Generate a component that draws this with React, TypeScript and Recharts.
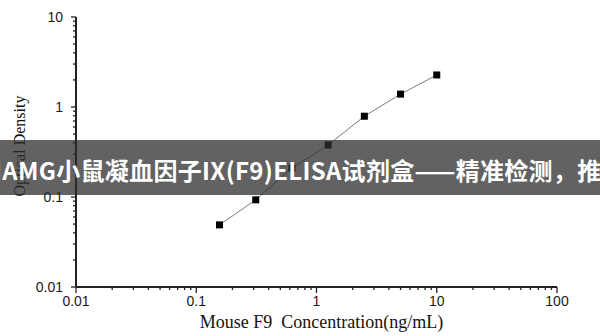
import { ScatterChart, Scatter, XAxis, YAxis } from "recharts";

// standard curve points
const concentrations = [0.156, 0.3125, 0.625, 1.25, 2.5, 5, 10];
const odValues = [0.049, 0.093, 0.21, 0.378, 0.79, 1.39, 2.27];

const xMajorTicks = [0.01, 0.1, 1, 10, 100];
const yMajorTicks = [0.01, 0.1, 1, 10];
const minorSteps = [2, 3, 4, 5, 6, 7, 8, 9];

const xTickLabels = ["0.01", "0.1", "1", "10", "100"];
const yTickLabels = ["0.01", "0.1", "1", "10"];

const bannerText = "司AMG小鼠凝血因子IX(F9)ELISA试剂盒——精准检测，推";

const withMinors = (majors: number[]) => {
  const out: number[] = [];
  majors.forEach((m, i) => {
    out.push(m);
    if (i < majors.length - 1) minorSteps.forEach((s) => out.push(+(m * s).toPrecision(3)));
  });
  return out;
};

const xTicks = withMinors(xMajorTicks);
const yTicks = withMinors(yMajorTicks);

const chartData = concentrations.map((c, i) => ({ x: c, y: odValues[i] }));

const labelFont = "'Liberation Sans', Arial, sans-serif";
const serif = "'Liberation Serif', 'Times New Roman', serif";

const XTick = (props: any) => {
  const { x, y, payload } = props;
  const idx = xMajorTicks.indexOf(payload.value);
  const major = idx >= 0;
  return (
    <g>
      <line x1={x} x2={x} y1={y} y2={y + (major ? 6 : 3)} stroke="#222" strokeWidth={1.3} />
      {major && (
        <text x={x} y={y + 14} textAnchor="middle" dominantBaseline="central" fontSize={14} fontFamily={labelFont} fill="#1a1a1a">
          {xTickLabels[idx]}
        </text>
      )}
    </g>
  );
};

const YTick = (props: any) => {
  const { x, y, payload } = props;
  const idx = yMajorTicks.indexOf(payload.value);
  const major = idx >= 0;
  return (
    <g>
      <line x1={x} x2={x - (major ? 5 : 3)} y1={y} y2={y} stroke="#222" strokeWidth={1.3} />
      {major && (
        <text x={x - 13} y={y} textAnchor="end" dominantBaseline="central" fontSize={14} fontFamily={labelFont} fill="#1a1a1a">
          {yTickLabels[idx]}
        </text>
      )}
    </g>
  );
};

const SquareDot = (props: any) => {
  const { cx, cy } = props;
  return <rect x={cx - 3.5} y={cy - 3.5} width={7} height={7} fill="#000" />;
};

export default function App() {
  return (
    <div style={{ position: "absolute", left: 0, top: 0, width: 600, height: 336, background: "#fff", overflow: "hidden" }}>
      <ScatterChart width={600} height={336} margin={{ top: 17, right: 43, bottom: 0, left: 0 }}>
        <XAxis
          type="number"
          dataKey="x"
          scale="log"
          domain={[0.01, 100]}
          allowDataOverflow
          ticks={xTicks}
          interval={0}
          height={49}
          tickSize={0}
          tickMargin={0}
          tickLine={false}
          tick={<XTick />}
          axisLine={{ stroke: "#222", strokeWidth: 2 }}
          label={{
            content: (p: any) => {
              const vb = p.viewBox;
              return (
                <text x={vb.x + vb.width / 2 + 5} y={vb.y + 41} textAnchor="middle" fontSize={18} fontFamily={serif} fill="#111" style={{ whiteSpace: "pre" }}>
                  {"Mouse F9  Concentration(ng/mL)"}
                </text>
              );
            },
          }}
        />
        <YAxis
          type="number"
          dataKey="y"
          scale="log"
          domain={[0.01, 10]}
          allowDataOverflow
          ticks={yTicks}
          interval={0}
          width={76}
          tickSize={0}
          tickMargin={0}
          tickLine={false}
          tick={<YTick />}
          axisLine={{ stroke: "#222", strokeWidth: 2 }}
          label={{
            content: (p: any) => {
              const vb = p.viewBox;
              const cx = vb.x + 19;
              const cy = vb.y + vb.height / 2 - 6;
              return (
                <text x={cx} y={cy} transform={`rotate(-90 ${cx} ${cy})`} textAnchor="middle" dominantBaseline="central" fontSize={16} fontFamily={serif} fill="#111">
                  Optical Density
                </text>
              );
            },
          }}
        />
        <Scatter
          data={chartData}
          isAnimationActive={false}
          line={{ stroke: "#7a7a7a", strokeWidth: 1 }}
          shape={<SquareDot />}
        />
      </ScatterChart>
      <div
        style={{
          position: "absolute",
          left: 0,
          top: 140,
          width: 600,
          height: 55,
          background: "rgba(45, 45, 45, 0.75)",
          overflow: "hidden",
          whiteSpace: "nowrap",
          color: "#fff",
          fontFamily: "'Noto Sans CJK SC', sans-serif",
          fontWeight: 700,
          fontSize: 24,
          letterSpacing: "0.3px",
          lineHeight: "60px",
        }}
      >
        <span style={{ marginLeft: -22 }}>{bannerText}</span>
      </div>
    </div>
  );
}
